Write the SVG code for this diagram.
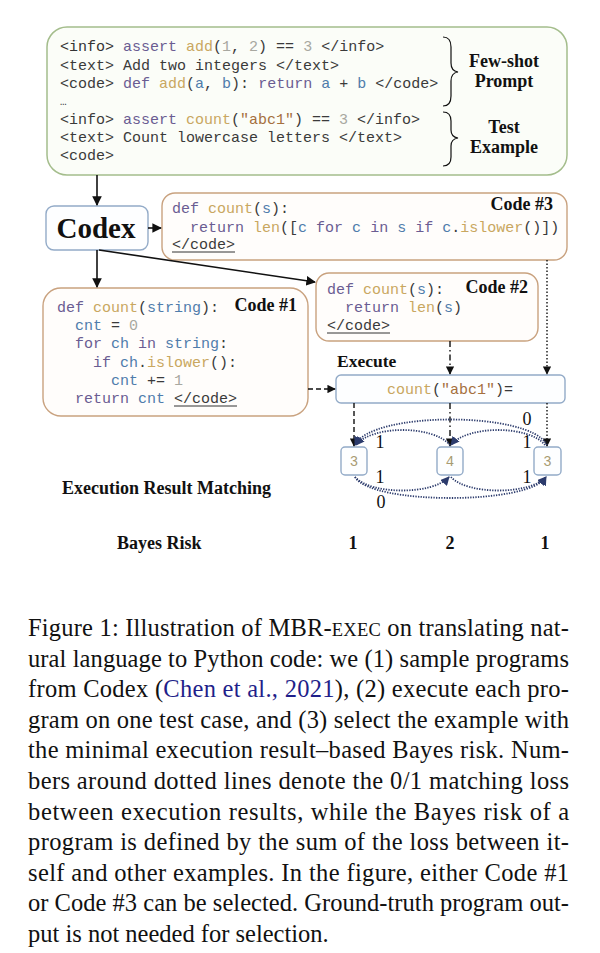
<svg xmlns="http://www.w3.org/2000/svg" width="600" height="953" viewBox="0 0 600 953">
<style>
.code{font-family:"Liberation Mono","DejaVu Sans Mono",monospace;font-size:15px;fill:#3a3a3a}
.kw{fill:#6a5c92}.fn{fill:#c9a760}.id{fill:#4f7cab}.num{fill:#a8a8a0}.str{fill:#a5703e}.tag{fill:#333}
.lbl{font-family:"Liberation Serif","Times New Roman",serif;font-weight:bold;fill:#111}
.cap{font-family:"Liberation Serif","Times New Roman",serif;font-size:24.5px;fill:#111}
.num2{font-family:"Liberation Serif",serif;font-size:18px;fill:#111}
.codebox{fill:#fffdfb;stroke:#c9a27f;stroke-width:1.4}
.bluebox{fill:#fdfeff;stroke:#93abc8;stroke-width:1.4}
.solid{stroke:#111;stroke-width:1.6;fill:none}
.arc{stroke:#2c3b6c;stroke-width:1.8;fill:none;stroke-dasharray:1.3 1.3}
</style>
<defs>
<marker id="ah" viewBox="0 0 10 10" refX="9" refY="5" markerWidth="6" markerHeight="6" orient="auto"><path d="M0,0 L10,5 L0,10 z" fill="#111"/></marker>
<marker id="an" viewBox="0 0 10 10" refX="9" refY="5" markerWidth="5" markerHeight="5" orient="auto"><path d="M0,0 L10,5 L0,10 z" fill="#2c3b6c"/></marker>
</defs>

<g id="prompt">
<rect x="47" y="27" width="520" height="148" rx="20" fill="#fbfdf8" stroke="#a4bd8c" stroke-width="1.5"/>
<text class="code" x="60" y="51"><tspan class="tag">&lt;info&gt; </tspan><tspan class="kw">assert </tspan><tspan class="fn">add</tspan>(<tspan class="num">1</tspan>, <tspan class="num">2</tspan>) == <tspan class="num">3</tspan> &lt;/info&gt;</text>
<text class="code" x="60" y="70">&lt;text&gt; Add two integers &lt;/text&gt;</text>
<text class="code" x="60" y="88">&lt;code&gt; <tspan class="kw">def </tspan><tspan class="fn">add</tspan>(<tspan class="id">a</tspan>, <tspan class="id">b</tspan>): <tspan class="kw">return </tspan><tspan class="id">a</tspan> + <tspan class="id">b</tspan> &lt;/code&gt;</text>
<text class="code" x="60" y="105" style="font-size:11px">…</text>
<text class="code" x="60" y="124">&lt;info&gt; <tspan class="kw">assert </tspan><tspan class="fn">count</tspan>(<tspan class="str">"abc1"</tspan>) == <tspan class="num">3</tspan> &lt;/info&gt;</text>
<text class="code" x="60" y="142">&lt;text&gt; Count lowercase letters &lt;/text&gt;</text>
<text class="code" x="60" y="160">&lt;code&gt;</text>
<path d="M443,37 Q451,37 451,47 L451,63 Q451,71 458,72 Q451,73 451,81 L451,96 Q451,106 443,106" fill="none" stroke="#111" stroke-width="1.2"/>
<path d="M443,112 Q451,112 451,121 L451,130 Q451,137 458,138 Q451,139 451,146 L451,157 Q451,166 443,166" fill="none" stroke="#111" stroke-width="1.2"/>
<text class="lbl" x="504" y="67" text-anchor="middle" font-size="18">Few-shot</text>
<text class="lbl" x="504" y="87" text-anchor="middle" font-size="18">Prompt</text>
<text class="lbl" x="504" y="133" text-anchor="middle" font-size="18">Test</text>
<text class="lbl" x="504" y="153" text-anchor="middle" font-size="18">Example</text>
</g>

<g id="codex">
<rect class="bluebox" x="46" y="206" width="102" height="44" rx="8"/>
<text class="lbl" x="96" y="238" text-anchor="middle" font-size="29">Codex</text>
</g>

<g id="code3">
<rect class="codebox" x="162" y="193" width="405" height="67" rx="13"/>
<text class="code" x="172" y="213"><tspan class="kw">def </tspan><tspan class="fn">count</tspan>(<tspan class="id">s</tspan>):</text>
<text class="code" x="190" y="232"><tspan class="kw">return </tspan><tspan class="fn">len</tspan>([<tspan class="id">c</tspan> <tspan class="kw">for</tspan> <tspan class="id">c</tspan> <tspan class="kw">in</tspan> <tspan class="id">s</tspan> <tspan class="kw">if</tspan> <tspan class="id">c</tspan>.<tspan class="fn">islower</tspan>()])</text>
<text class="code" x="172" y="249">&lt;/code&gt;</text>
<line x1="172" y1="252" x2="235" y2="252" stroke="#333" stroke-width="1"/>
<text class="lbl" x="553" y="210" text-anchor="end" font-size="18">Code #3</text>
</g>

<g id="code1">
<rect class="codebox" x="43" y="288" width="265" height="128" rx="18"/>
<text class="code" x="57" y="312"><tspan class="kw">def </tspan><tspan class="fn">count</tspan>(<tspan class="id">string</tspan>):</text>
<text class="code" x="75" y="330"><tspan class="id">cnt</tspan> = <tspan class="num">0</tspan></text>
<text class="code" x="75" y="348"><tspan class="kw">for</tspan> <tspan class="id">ch</tspan> <tspan class="kw">in</tspan> <tspan class="id">string</tspan>:</text>
<text class="code" x="93" y="367"><tspan class="kw">if</tspan> <tspan class="id">ch</tspan>.<tspan class="fn">islower</tspan>():</text>
<text class="code" x="111" y="385"><tspan class="id">cnt</tspan> += <tspan class="num">1</tspan></text>
<text class="code" x="75" y="403"><tspan class="kw">return</tspan> <tspan class="id">cnt</tspan> &lt;/code&gt;</text>
<line x1="174" y1="406" x2="237" y2="406" stroke="#333" stroke-width="1"/>
<text class="lbl" x="297" y="311" text-anchor="end" font-size="18">Code #1</text>
</g>

<g id="code2">
<rect class="codebox" x="316" y="273" width="222" height="68" rx="13"/>
<text class="code" x="327" y="294"><tspan class="kw">def </tspan><tspan class="fn">count</tspan>(<tspan class="id">s</tspan>):</text>
<text class="code" x="345" y="312"><tspan class="kw">return </tspan><tspan class="fn">len</tspan>(<tspan class="id">s</tspan>)</text>
<text class="code" x="327" y="330">&lt;/code&gt;</text>
<line x1="327" y1="333" x2="390" y2="333" stroke="#333" stroke-width="1"/>
<text class="lbl" x="528" y="293" text-anchor="end" font-size="18">Code #2</text>
</g>

<g id="execute">
<text class="lbl" x="337" y="367" font-size="17.5">Execute</text>
<rect class="bluebox" x="336" y="375" width="229" height="28" rx="5"/>
<text class="code" x="387" y="394"><tspan class="fn">count</tspan>(<tspan class="str">"abc1"</tspan>)=</text>
</g>

<g id="results">
<rect class="bluebox" x="341" y="447" width="26" height="28" rx="4"/>
<text class="code" x="354" y="466" text-anchor="middle" style="fill:#a89b72;font-size:14px">3</text>
<rect class="bluebox" x="437" y="447" width="26" height="28" rx="4"/>
<text class="code" x="450" y="466" text-anchor="middle" style="fill:#a89b72;font-size:14px">4</text>
<rect class="bluebox" x="534" y="447" width="27" height="28" rx="4"/>
<text class="code" x="547.5" y="466" text-anchor="middle" style="fill:#a89b72;font-size:14px">3</text>
</g>

<g id="connectors">
<line class="solid" x1="97" y1="175" x2="97" y2="205" marker-end="url(#ah)"/>
<line class="solid" x1="148" y1="228" x2="161" y2="228" marker-end="url(#ah)"/>
<line class="solid" x1="97" y1="250" x2="97" y2="287" marker-end="url(#ah)"/>
<line class="solid" x1="99" y1="250" x2="315" y2="282" marker-end="url(#ah)"/>
<line class="solid" x1="308" y1="389" x2="335" y2="389" stroke-dasharray="5 3" marker-end="url(#ah)" style="stroke-width:1.4"/>
<line class="solid" x1="450" y1="341" x2="450" y2="374" stroke-dasharray="6 3 1.5 3" marker-end="url(#ah)" style="stroke-width:1.4"/>
<line class="solid" x1="547" y1="260" x2="547" y2="374" stroke-dasharray="1.5 2" marker-end="url(#ah)" style="stroke-width:1.4"/>
<line class="solid" x1="354" y1="403" x2="354" y2="446" stroke-dasharray="5 3" marker-end="url(#ah)" style="stroke-width:1.4"/>
<line class="solid" x1="450" y1="403" x2="450" y2="446" stroke-dasharray="6 3 1.5 3" marker-end="url(#ah)" style="stroke-width:1.4"/>
<line class="solid" x1="547" y1="403" x2="547" y2="446" stroke-dasharray="1.5 2" marker-end="url(#ah)" style="stroke-width:1.4"/>
<path class="arc" d="M547,445 C530,411 371,411 355,445" marker-end="url(#an)"/>
<path class="arc" d="M450,445 C433,425 372,425 356,445" marker-end="url(#an)"/>
<path class="arc" d="M545,445 C529,425 467,425 451,445" marker-end="url(#an)"/>
<path class="arc" d="M355,477 C371,495 433,495 449,477" marker-end="url(#an)"/>
<path class="arc" d="M451,477 C467,495 530,495 546,477" marker-end="url(#an)"/>
<path class="arc" d="M355,477 C371,505 530,505 546,477" marker-end="url(#an)"/>
</g>

<g id="labels">
<text class="num2" x="527" y="425" text-anchor="middle">0</text>
<text class="num2" x="380" y="448" text-anchor="middle">1</text>
<text class="num2" x="527" y="448" text-anchor="middle">1</text>
<text class="num2" x="380" y="483" text-anchor="middle">1</text>
<text class="num2" x="527" y="483" text-anchor="middle">1</text>
<text class="num2" x="381" y="508" text-anchor="middle">0</text>
<text class="lbl" x="62" y="494" font-size="18">Execution Result Matching</text>
<text class="lbl" x="117" y="549" font-size="18">Bayes Risk</text>
<text class="lbl" x="353" y="549" font-size="18" text-anchor="middle">1</text>
<text class="lbl" x="450" y="549" font-size="18" text-anchor="middle">2</text>
<text class="lbl" x="545" y="549" font-size="18" text-anchor="middle">1</text>
</g>

<g id="caption">
<text class="cap" x="28" y="636" textLength="541" lengthAdjust="spacing">Figure 1: Illustration of MBR-<tspan font-size="18.5">EXEC</tspan> on translating nat-</text>
<text class="cap" x="28" y="667" textLength="541" lengthAdjust="spacing">ural language to Python code: we (1) sample programs</text>
<text class="cap" x="28" y="697" textLength="541" lengthAdjust="spacing">from Codex (<tspan fill="#1f1f8a">Chen et al., 2021</tspan>), (2) execute each pro-</text>
<text class="cap" x="28" y="728" textLength="541" lengthAdjust="spacing">gram on one test case, and (3) select the example with</text>
<text class="cap" x="28" y="758" textLength="541" lengthAdjust="spacing">the minimal execution result–based Bayes risk.  Num-</text>
<text class="cap" x="28" y="789" textLength="541" lengthAdjust="spacing">bers around dotted lines denote the 0/1 matching loss</text>
<text class="cap" x="28" y="820" textLength="541" lengthAdjust="spacing">between execution results, while the Bayes risk of a</text>
<text class="cap" x="28" y="850" textLength="541" lengthAdjust="spacing">program is defined by the sum of the loss between it-</text>
<text class="cap" x="28" y="881" textLength="541" lengthAdjust="spacing">self and other examples.  In the figure, either Code #1</text>
<text class="cap" x="28" y="911" textLength="541" lengthAdjust="spacing">or Code #3 can be selected. Ground-truth program out-</text>
<text class="cap" x="28" y="942">put is not needed for selection.</text>
</g>
</svg>
